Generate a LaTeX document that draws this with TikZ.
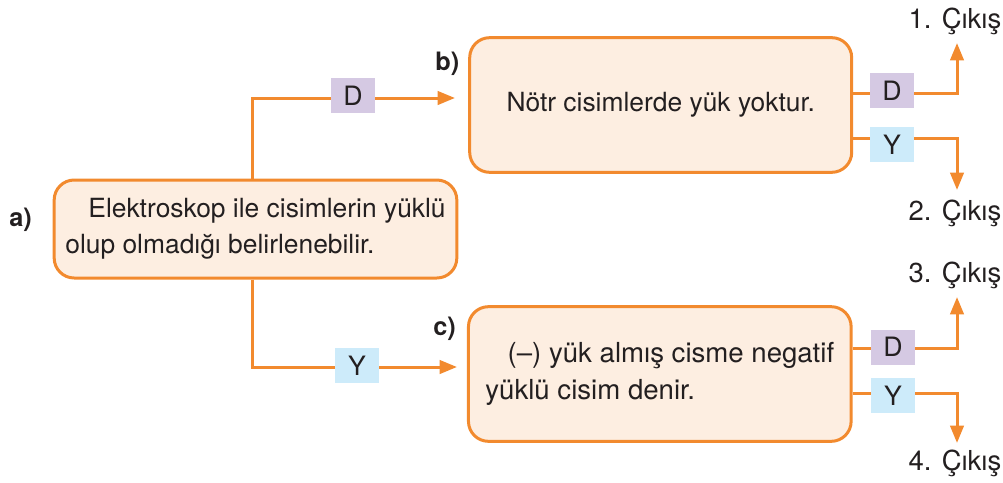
\documentclass[tikz,border=0pt]{standalone}
\usepackage{fontspec}
\setmainfont{TeX Gyre Heros}
\usepackage{tikz}
\usetikzlibrary{arrows.meta, positioning}

\definecolor{flowor}{HTML}{F28A2E}
\definecolor{boxfill}{HTML}{FDEEE1}
\definecolor{dfill}{HTML}{D5C9E3}
\definecolor{yfill}{HTML}{CDEBFA}
\definecolor{inkc}{HTML}{231F20}

\begin{document}
\begin{tikzpicture}[
    x=0.75pt, y=-0.75pt,
    every node/.style={font=\fontsize{19.8}{27}\selectfont, text=inkc},
    mainbox/.style={rectangle, draw=flowor, line width=2.25pt, rounded corners=15pt, fill=boxfill, inner sep=0pt},
    tagbox/.style={rectangle, minimum width=33pt, minimum height=26.25pt, inner sep=0pt, font=\fontsize{20}{24}\selectfont},
    steplabel/.style={font=\fontsize{19}{24}\selectfont\bfseries, anchor=base west, inner sep=0pt},
    outlabel/.style={anchor=base, inner sep=0pt, font=\fontsize{20.6}{24}\selectfont},
    arr/.style={-{Triangle[length=13pt, width=10pt]}, draw=flowor, line width=2.25pt}
]
\useasboundingbox (0,0) rectangle (1003,482);

% Boxes
\node[mainbox, minimum width=302pt, minimum height=73.5pt, align=left] (boxA) at (255.5,229)
    {\hspace*{17.3pt}Elektroskop ile cisimlerin yüklü\\olup olmadığı belirlenebilir.};
\node[mainbox, minimum width=286.5pt, minimum height=101pt] (boxB) at (660.7,105) {Nötr cisimlerde yük yoktur.};
\node[mainbox, minimum width=287pt, minimum height=101pt, align=left,
      font=\fontsize{20.7}{28.3}\selectfont] (boxC) at (659.8,374)
    {\hspace*{16.7pt}(--) yük almış cisme negatif\\yüklü cisim denir.};

% Step labels
\node[steplabel] (labA) at (9,226) {a)};
\node[steplabel] (labB) at (435,70) {b)};
\node[steplabel] (labC) at (433,335) {c)};

% Exit labels
\node[outlabel] (out1) at (955,28) {1. Çıkış};
\node[outlabel] (out2) at (955,220) {2. Çıkış};
\node[outlabel] (out3) at (955,282) {3. Çıkış};
\node[outlabel] (out4) at (955,470) {4. Çıkış};

% Turning points and arrow tips
\coordinate (jA) at (252,98);
\coordinate (tipB) at (455,98);
\coordinate (tipC) at (457,367);
\coordinate (rB1) at (957,93);
\coordinate (rB2) at (957,138);
\coordinate (rC1) at (957,348);
\coordinate (rC2) at (957,393);
\coordinate (tip1) at (957,43);
\coordinate (tip2) at (957,190);
\coordinate (tip3) at (957,297);
\coordinate (tip4) at (957,443);

% Arrows
\draw[arr] (boxA.north -| jA) |- (tipB);
\draw[arr] (boxA.south -| jA) |- (tipC);
\draw[arr] (boxB.east |- rB1) -- (rB1) -- (tip1);
\draw[arr] (boxB.east |- rB2) -- (rB2) -- (tip2);
\draw[arr] (boxC.east |- rC1) -- (rC1) -- (tip3);
\draw[arr] (boxC.east |- rC2) -- (rC2) -- (tip4);

% D / Y tags
\node[tagbox, fill=dfill] (tagAD) at (353,95.5) {D};
\node[tagbox, fill=yfill] (tagAY) at (357,365.5) {Y};
\node[tagbox, fill=dfill] (tagBD) at (892,90.5) {D};
\node[tagbox, fill=yfill] (tagBY) at (892,144.5) {Y};
\node[tagbox, fill=dfill] (tagCD) at (893,347) {D};
\node[tagbox, fill=yfill] (tagCY) at (893,395.5) {Y};

\end{tikzpicture}
\end{document}
